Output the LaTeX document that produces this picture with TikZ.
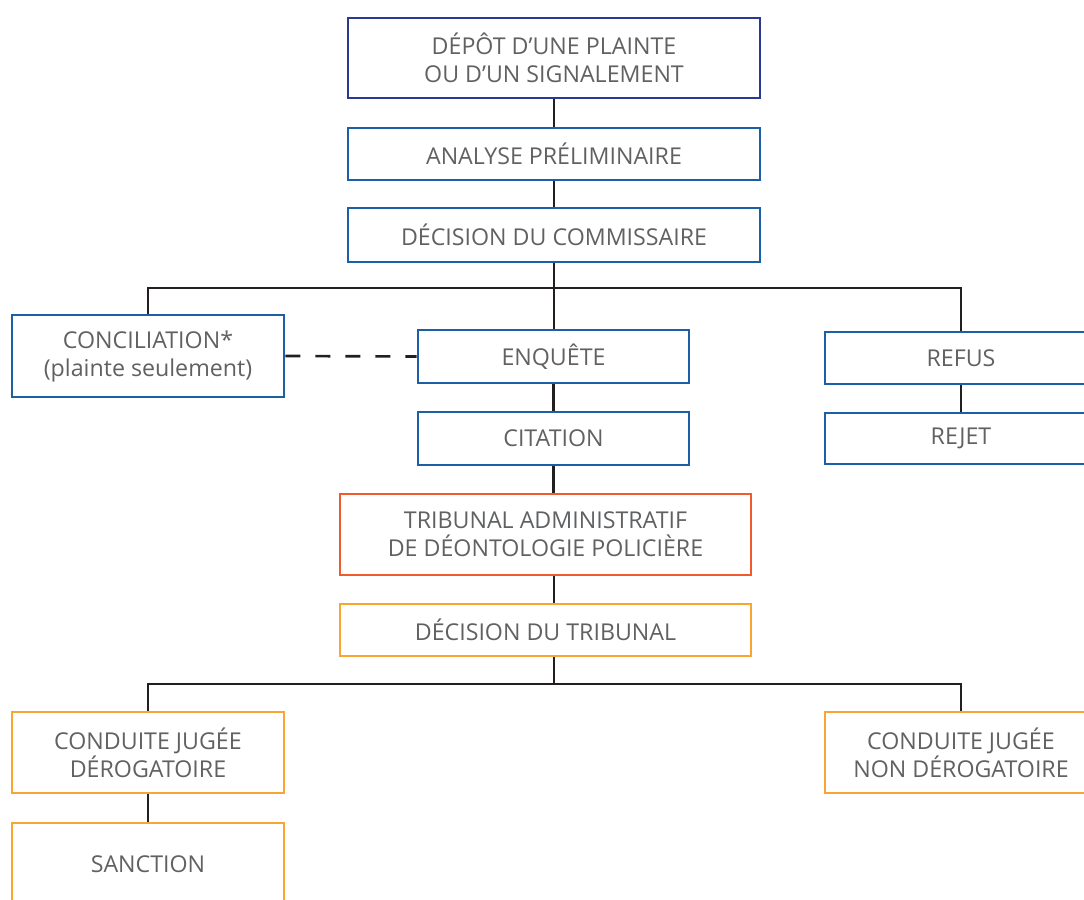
\documentclass[tikz,border=0pt]{standalone}
\usepackage{fontspec}
\setmainfont{Open Sans}
\definecolor{navy}{HTML}{2B3990}
\definecolor{blu}{HTML}{1C5FA5}
\definecolor{redo}{HTML}{F15A2B}
\definecolor{orng}{HTML}{F9A531}
\definecolor{linec}{HTML}{231F20}
\definecolor{txt}{HTML}{606163}
\begin{document}
\begin{tikzpicture}[x=0.75pt,y=-0.75pt,
  box/.style={draw, line width=2pt, fill=white, inner sep=0pt, align=center,
    text=txt, font=\fontsize{17.4pt}{21pt}\selectfont},
  conn/.style={draw=linec, line width=2pt},
  dashconn/.style={draw=linec, line width=2pt, dash pattern=on 11.25pt off 11.25pt}]
\useasboundingbox (0,0) rectangle (1084,899);
\clip (0,0) rectangle (1084,899);
% nodes
\node[box, draw=navy, minimum width=309pt, minimum height=60pt] (dep) at (554,58) {DÉPÔT D’UNE PLAINTE\\OU D’UN SIGNALEMENT};
\node[box, draw=blu, minimum width=309pt, minimum height=39pt] (ana) at (554,154) {ANALYSE PRÉLIMINAIRE};
\node[box, draw=blu, minimum width=309pt, minimum height=40.5pt] (dec) at (554,235) {DÉCISION DU COMMISSAIRE};
\node[box, draw=blu, minimum width=204pt, minimum height=61.5pt] (con) at (148,356) {CONCILIATION*\\(plainte seulement)};
\node[box, draw=blu, minimum width=203.25pt, minimum height=39.75pt] (enq) at (553.5,356.5) {ENQUÊTE};
\node[box, draw=blu, minimum width=204pt, minimum height=39pt] (ref) at (961,358) {REFUS};
\node[box, draw=blu, minimum width=203.25pt, minimum height=39.75pt] (cit) at (553.5,438.5) {CITATION};
\node[box, draw=blu, minimum width=204pt, minimum height=38.25pt] (rej) at (961,438.5) {REJET};
\node[box, draw=redo, minimum width=308.25pt, minimum height=60.75pt] (tri) at (545.5,534.5) {TRIBUNAL ADMINISTRATIF\\DE DÉONTOLOGIE POLICIÈRE};
\node[box, draw=orng, minimum width=308.25pt, minimum height=39pt] (dtr) at (545.5,630) {DÉCISION DU TRIBUNAL};
\node[box, draw=orng, minimum width=204pt, minimum height=60.75pt] (cjd) at (148,752.5) {CONDUITE JUGÉE\\DÉROGATOIRE};
\node[box, draw=orng, minimum width=204pt, minimum height=60.75pt] (cnd) at (961,752.5) {CONDUITE JUGÉE\\NON DÉROGATOIRE};
\node[box, draw=orng, minimum width=204pt, minimum height=61.5pt] (san) at (148,864) {SANCTION};
% connectors
\coordinate (b1) at (554,288);
\coordinate (b2) at (554,684);
\draw[conn] (dep.south) -- (ana.north);
\draw[conn] (ana.south) -- (dec.north);
\draw[conn] (dec.south) -- (b1);
\draw[conn] (con.north) |- (b1) -| (ref.north);
\draw[conn] (b1) -- (b1 |- enq.north);
\draw[dashconn] (con.east) -- (enq.west);
\draw[conn] (enq.south) -- (cit.north);
\draw[conn] (ref.south) -- (rej.north);
\draw[conn] (cit.south) -- (cit.south |- tri.north);
\draw[conn] (tri.south -| b2) -- (dtr.north -| b2);
\draw[conn] (dtr.south -| b2) -- (b2);
\draw[conn] (cjd.north) |- (b2) -| (cnd.north);
\draw[conn] (cjd.south) -- (san.north);
\end{tikzpicture}
\end{document}
